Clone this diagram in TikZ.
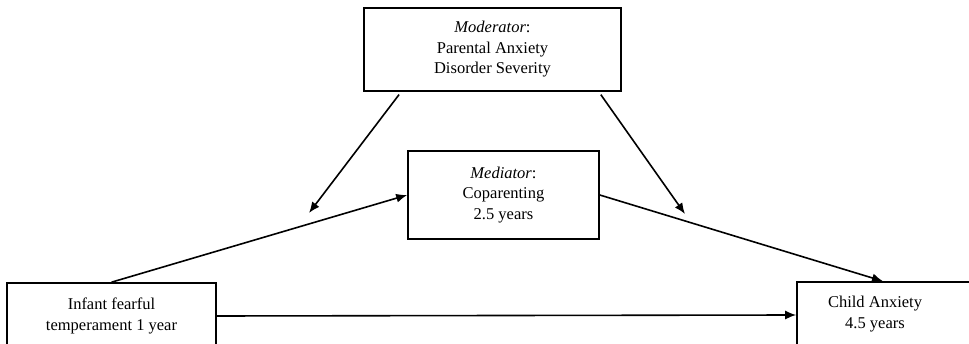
\documentclass[tikz,border=0pt]{standalone}
\usepackage{fontspec}
\setmainfont{Liberation Serif}
\usetikzlibrary{arrows.meta}
\begin{document}
\begin{tikzpicture}[x=1pt,y=-1pt,
  boxnode/.style={draw=black, line width=1.6pt, inner sep=0pt, align=center,
    font=\fontsize{16.5}{20.5}\selectfont},
  conn/.style={line width=1.6pt, -{Latex[length=11pt,width=9pt]}}]
\useasboundingbox (0,0) rectangle (969,344);
% boxes
\node[boxnode, minimum width=257pt, minimum height=83pt] (Mod) at (492.5,49.5)
  {\textit{Moderator}:\\Parental Anxiety\\Disorder Severity};
\node[boxnode, minimum width=191pt, minimum height=88pt] (Med) at (503.5,195)
  {\textit{Mediator}:\\Coparenting\\2.5 years};
\node[boxnode, minimum width=209pt, minimum height=66pt] (L) at (111.5,316)
  {Infant fearful\\temperament 1 year};
\node[boxnode, minimum width=183pt, minimum height=66pt] (R) at (888.5,315) {};
\node[font=\fontsize{16.5}{20.5}\selectfont, align=center, inner sep=0pt] (Rt) at (875,314)
  {Child Anxiety\\4.5 years};
% free ends of moderator arrows
\coordinate (m1) at (309,213);
\coordinate (m2) at (685,214);
% connectors
\draw[conn] (L.north) -- (Med.west);
\draw[conn] (Med.east) -- ([xshift=-5.5pt]R.north);
\draw[conn] (L.east) -- (R.west);
\draw[conn, shorten <=3.5pt] ([xshift=38pt]Mod.south west) -- (m1);
\draw[conn, shorten <=3.5pt] ([xshift=-23pt]Mod.south east) -- (m2);
\end{tikzpicture}
\end{document}
